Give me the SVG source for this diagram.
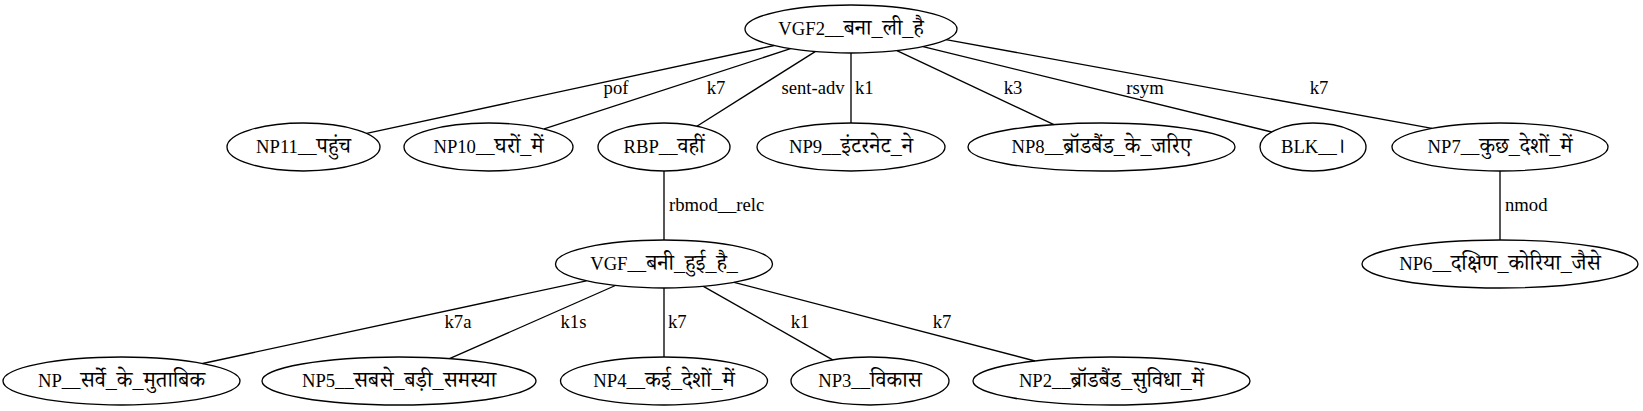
<svg xmlns="http://www.w3.org/2000/svg" width="1643" height="411" viewBox="0 0 1643 411">
<style>
.n ellipse{fill:none;stroke:#000;stroke-width:1.33}
text{font-family:"Liberation Serif","Noto Serif Devanagari","Noto Sans Devanagari","Lohit Devanagari",serif;font-size:18.67px;fill:#000}
.n text{text-anchor:middle}
.d{font-size:22px}
.e line{stroke:#000;stroke-width:1.33}
.lm{text-anchor:middle}
.ls{text-anchor:start}
</style>
<rect width="1643" height="411" fill="#fff"/>
<g id="edges" class="e">
<line x1="774.2" y1="45.5" x2="366.6" y2="133.4"/>
<line x1="790.5" y1="48.7" x2="544.1" y2="128.9"/>
<line x1="815.2" y1="51.6" x2="696.9" y2="126.2"/>
<line x1="851" y1="53" x2="851" y2="123"/>
<line x1="896.9" y1="50.6" x2="1053.9" y2="124.6"/>
<line x1="923" y1="46.6" x2="1271.7" y2="132"/>
<line x1="946" y1="39.6" x2="1432" y2="128.4"/>
<line x1="664" y1="171" x2="664" y2="240"/>
<line x1="1500" y1="171" x2="1500" y2="240"/>
<line x1="586.3" y1="280.8" x2="202.6" y2="363.5"/>
<line x1="615.4" y1="285.5" x2="449.5" y2="358.7"/>
<line x1="664" y1="288" x2="664" y2="357"/>
<line x1="703.4" y1="286.4" x2="832.7" y2="359.8"/>
<line x1="734.1" y1="282.3" x2="1035" y2="361"/>
<text class="lm" x="616" y="93.5">pof</text>
<text class="lm" x="716" y="93.5">k7</text>
<text class="lm" x="813" y="93.5">sent-adv</text>
<text class="ls" x="855" y="93.5">k1</text>
<text class="lm" x="1013" y="93.5">k3</text>
<text class="lm" x="1145" y="93.5">rsym</text>
<text class="lm" x="1319" y="93.5">k7</text>
<text class="ls" x="669" y="210.5">rbmod__relc</text>
<text class="ls" x="1505" y="210.5">nmod</text>
<text class="lm" x="458" y="328">k7a</text>
<text class="lm" x="573.5" y="328">k1s</text>
<text class="ls" x="668" y="328">k7</text>
<text class="lm" x="800" y="328">k1</text>
<text class="lm" x="942" y="328">k7</text>
</g>
<g id="VGF2" class="n"><ellipse cx="851" cy="29" rx="106" ry="24"/><text x="851" y="34.5">VGF2__<tspan class="d">बना_ली_है</tspan></text></g>
<g id="NP11" class="n"><ellipse cx="303.5" cy="147" rx="76.5" ry="24"/><text x="303.5" y="152.5">NP11__<tspan class="d">पहुंच</tspan></text></g>
<g id="NP10" class="n"><ellipse cx="488.5" cy="147" rx="84.5" ry="24"/><text x="488.5" y="152.5">NP10__<tspan class="d">घरों_में</tspan></text></g>
<g id="RBP" class="n"><ellipse cx="664" cy="147" rx="66" ry="24"/><text x="664" y="152.5">RBP__<tspan class="d">वहीं</tspan></text></g>
<g id="NP9" class="n"><ellipse cx="851" cy="147" rx="94" ry="24"/><text x="851" y="152.5">NP9__<tspan class="d">इंटरनेट_ने</tspan></text></g>
<g id="NP8" class="n"><ellipse cx="1101.5" cy="147" rx="133.5" ry="24"/><text x="1101.5" y="152.5">NP8__<tspan class="d">ब्रॉडबैंड_के_जरिए</tspan></text></g>
<g id="BLK" class="n"><ellipse cx="1313" cy="147" rx="53" ry="24"/><text x="1313" y="152.5">BLK__<tspan class="d">।</tspan></text></g>
<g id="NP7" class="n"><ellipse cx="1500" cy="147" rx="108" ry="24"/><text x="1500" y="152.5">NP7__<tspan class="d">कुछ_देशों_में</tspan></text></g>
<g id="VGF" class="n"><ellipse cx="664" cy="264" rx="108.5" ry="24"/><text x="664" y="269.5">VGF__<tspan class="d">बनी_हुई_है_</tspan></text></g>
<g id="NP6" class="n"><ellipse cx="1500" cy="264" rx="138" ry="24"/><text x="1500" y="269.5">NP6__<tspan class="d">दक्षिण_कोरिया_जैसे</tspan></text></g>
<g id="NP" class="n"><ellipse cx="121.5" cy="381" rx="118.5" ry="24"/><text x="121.5" y="386.5">NP__<tspan class="d">सर्वे_के_मुताबिक</tspan></text></g>
<g id="NP5" class="n"><ellipse cx="399" cy="381" rx="137" ry="24"/><text x="399" y="386.5">NP5__<tspan class="d">सबसे_बड़ी_समस्या</tspan></text></g>
<g id="NP4" class="n"><ellipse cx="664" cy="381" rx="103.5" ry="24"/><text x="664" y="386.5">NP4__<tspan class="d">कई_देशों_में</tspan></text></g>
<g id="NP3" class="n"><ellipse cx="870" cy="381" rx="79" ry="24"/><text x="870" y="386.5">NP3__<tspan class="d">विकास</tspan></text></g>
<g id="NP2" class="n"><ellipse cx="1111.5" cy="381" rx="138.5" ry="24"/><text x="1111.5" y="386.5">NP2__<tspan class="d">ब्रॉडबैंड_सुविधा_में</tspan></text></g>
</svg>
